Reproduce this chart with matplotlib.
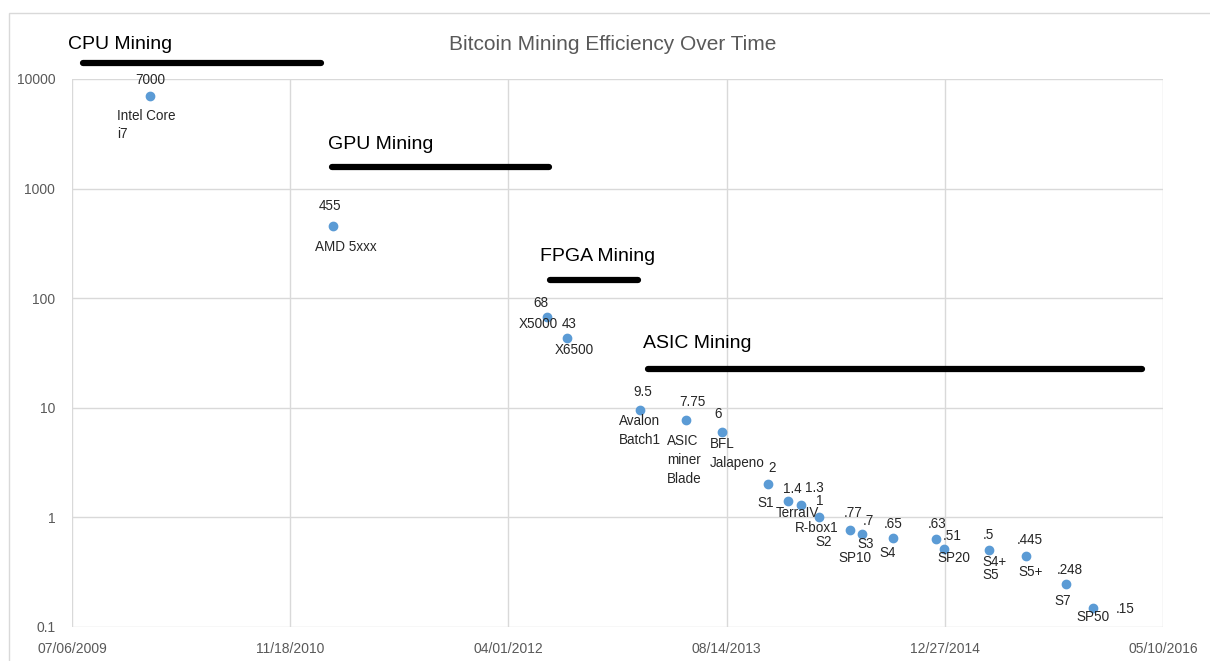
# scatter of miner efficiency over time, log scale
import numpy as np
import matplotlib.pyplot as plt
import matplotlib.dates as mdates
from matplotlib.patches import Rectangle

plt.rcParams['font.family'] = ['Liberation Sans', 'DejaVu Sans']

dates = ['2010-01-01', '2011-02-24', '2012-06-28', '2012-08-13', '2013-01-27',
         '2013-05-13', '2013-08-04', '2013-11-17', '2014-01-02', '2014-02-01',
         '2014-03-14', '2014-05-24', '2014-06-20', '2014-08-30', '2014-12-07',
         '2014-12-25', '2015-04-07', '2015-07-01', '2015-10-01', '2015-12-02']
efficiency = [7000, 455, 68, 43, 9.5, 7.75, 6, 2, 1.4, 1.3, 1, 0.77, 0.7, 0.65,
              0.63, 0.51, 0.5, 0.445, 0.248, 0.15]
value_labels = ['7000', '455', '68', '43', '9.5', '7.75', '6', '2', '1.4', '1.3', '1',
                '.77', '.7', '.65', '.63', '.51', '.5', '.445', '.248', '.15']
miner_names = ['Intel Core\ni7', 'AMD 5xxx', 'X5000', 'X6500', 'Avalon\nBatch1',
               'ASIC\nminer\nBlade', 'BFL\nJalapeno', 'S1', 'TerraIV', 'R-box1', 'S2',
               'SP10', 'S3', 'S4', '', 'SP20', 'S4+\nS5', 'S5+', 'S7', 'SP50']

eras = ['CPU Mining', 'GPU Mining', 'FPGA Mining', 'ASIC Mining']
era_start = ['2009-07-31', '2011-02-22', '2012-07-05', '2013-02-14']
era_end = ['2011-01-28', '2012-07-03', '2013-01-24', '2016-03-23']
era_level = [14000, 1580, 147, 22.6]

tick_dates = ['2009-07-06', '2010-11-18', '2012-04-01', '2013-08-14', '2014-12-27', '2016-05-10']
tick_labels = ['07/06/2009', '11/18/2010', '04/01/2012', '08/14/2013', '12/27/2014', '05/10/2016']
y_ticks = [0.1, 1, 10, 100, 1000, 10000]
y_tick_labels = ['0.1', '1', '10', '100', '1000', '10000']

# label offsets in pixels (layout only)
value_off = [(0, 16), (-3, 20), (-6, 14), (2, 14), (3, 18), (6, 18), (-4, 18), (4, 16),
             (4, 12), (13, 17), (1, 16), (3, 17), (6, 13), (0, 14), (1, 15), (8, 13),
             (0, 15), (4, 16), (4, 14), (32, -1)]
name_off = [('left', -33, -29), ('center', 13, -21), ('center', -9, -7), ('center', 7, -12),
            ('center', 0, -20), ('left', -19, -40), ('left', -12, -21), ('center', -2, -19),
            ('center', 9, -12), ('center', 15, -23), ('center', 5, -25), ('center', 5, -28),
            ('center', 4, -10), ('center', -5, -15), ('center', 0, 0), ('center', 10, -9),
            ('left', -6, -18), ('center', 5, -16), ('center', -3, -17), ('center', 0, -9)]
era_text_off = [(-15, 18), (-4, 22), (-10, 23), (-5, 25)]

x = mdates.date2num(np.array(dates, dtype='datetime64[D]'))

fig = plt.figure(figsize=(12.1, 6.61), dpi=100)
ax = fig.add_axes([72 / 1210, 1 - 627 / 661, (1163 - 72) / 1210, (627 - 79) / 661])

# chart border
fig.patches.append(Rectangle((9 / 1210, -0.01), 1.2, 1 - 13 / 661 + 0.01,
                             transform=fig.transFigure, fill=False,
                             edgecolor='#d9d9d9', linewidth=1))

ax.scatter(x, efficiency, s=36, color='#5b9bd5', zorder=3, clip_on=False)

for i in range(len(x)):
    dx, dy = value_off[i]
    ax.annotate(value_labels[i], (x[i], efficiency[i]), xytext=(dx, dy),
                textcoords='offset pixels', ha='center', va='center',
                fontsize=9.75, color='#262626', annotation_clip=False)
    if miner_names[i]:
        ha, dx, dy = name_off[i]
        ls = 0.85 if miner_names[i] == 'S4+\nS5' else 1.45
        ax.annotate(miner_names[i], (x[i], efficiency[i]), xytext=(dx, dy),
                    textcoords='offset pixels', ha=ha, va='center', multialignment='left',
                    fontsize=9.75, color='#262626', linespacing=ls, annotation_clip=False)

for name, s, e, lvl, (tx, ty) in zip(eras, era_start, era_end, era_level, era_text_off):
    xs = mdates.date2num(np.array([s, e], dtype='datetime64[D]'))
    ax.plot(xs, [lvl, lvl], color='black', linewidth=4.5, solid_capstyle='round',
            clip_on=False, zorder=4)
    ax.annotate(name, (xs[0], lvl), xytext=(tx, ty), textcoords='offset pixels',
                ha='left', va='center', fontsize=14, color='black', annotation_clip=False)

ax.set_yscale('log')
ax.set_ylim(0.1, 10000)
xt = mdates.date2num(np.array(tick_dates, dtype='datetime64[D]'))
ax.set_xlim(xt[0], xt[-1])
ax.set_xticks(xt)
ax.set_xticklabels(tick_labels)
ax.set_yticks(y_ticks)
ax.set_yticklabels(y_tick_labels)
ax.minorticks_off()
ax.tick_params(length=0, colors='#595959', labelsize=10)
ax.tick_params(axis='x', pad=11)
ax.tick_params(axis='y', pad=12)
for sp in ax.spines.values():
    sp.set_visible(False)
ax.grid(True, color='#d9d9d9', linewidth=1)
ax.set_axisbelow(True)

fig.text(613 / 1210, 1 - 44 / 661, 'Bitcoin Mining Efficiency Over Time',
         ha='center', va='center', fontsize=15, color='#595959')

fig.savefig('out.png', dpi=100)
